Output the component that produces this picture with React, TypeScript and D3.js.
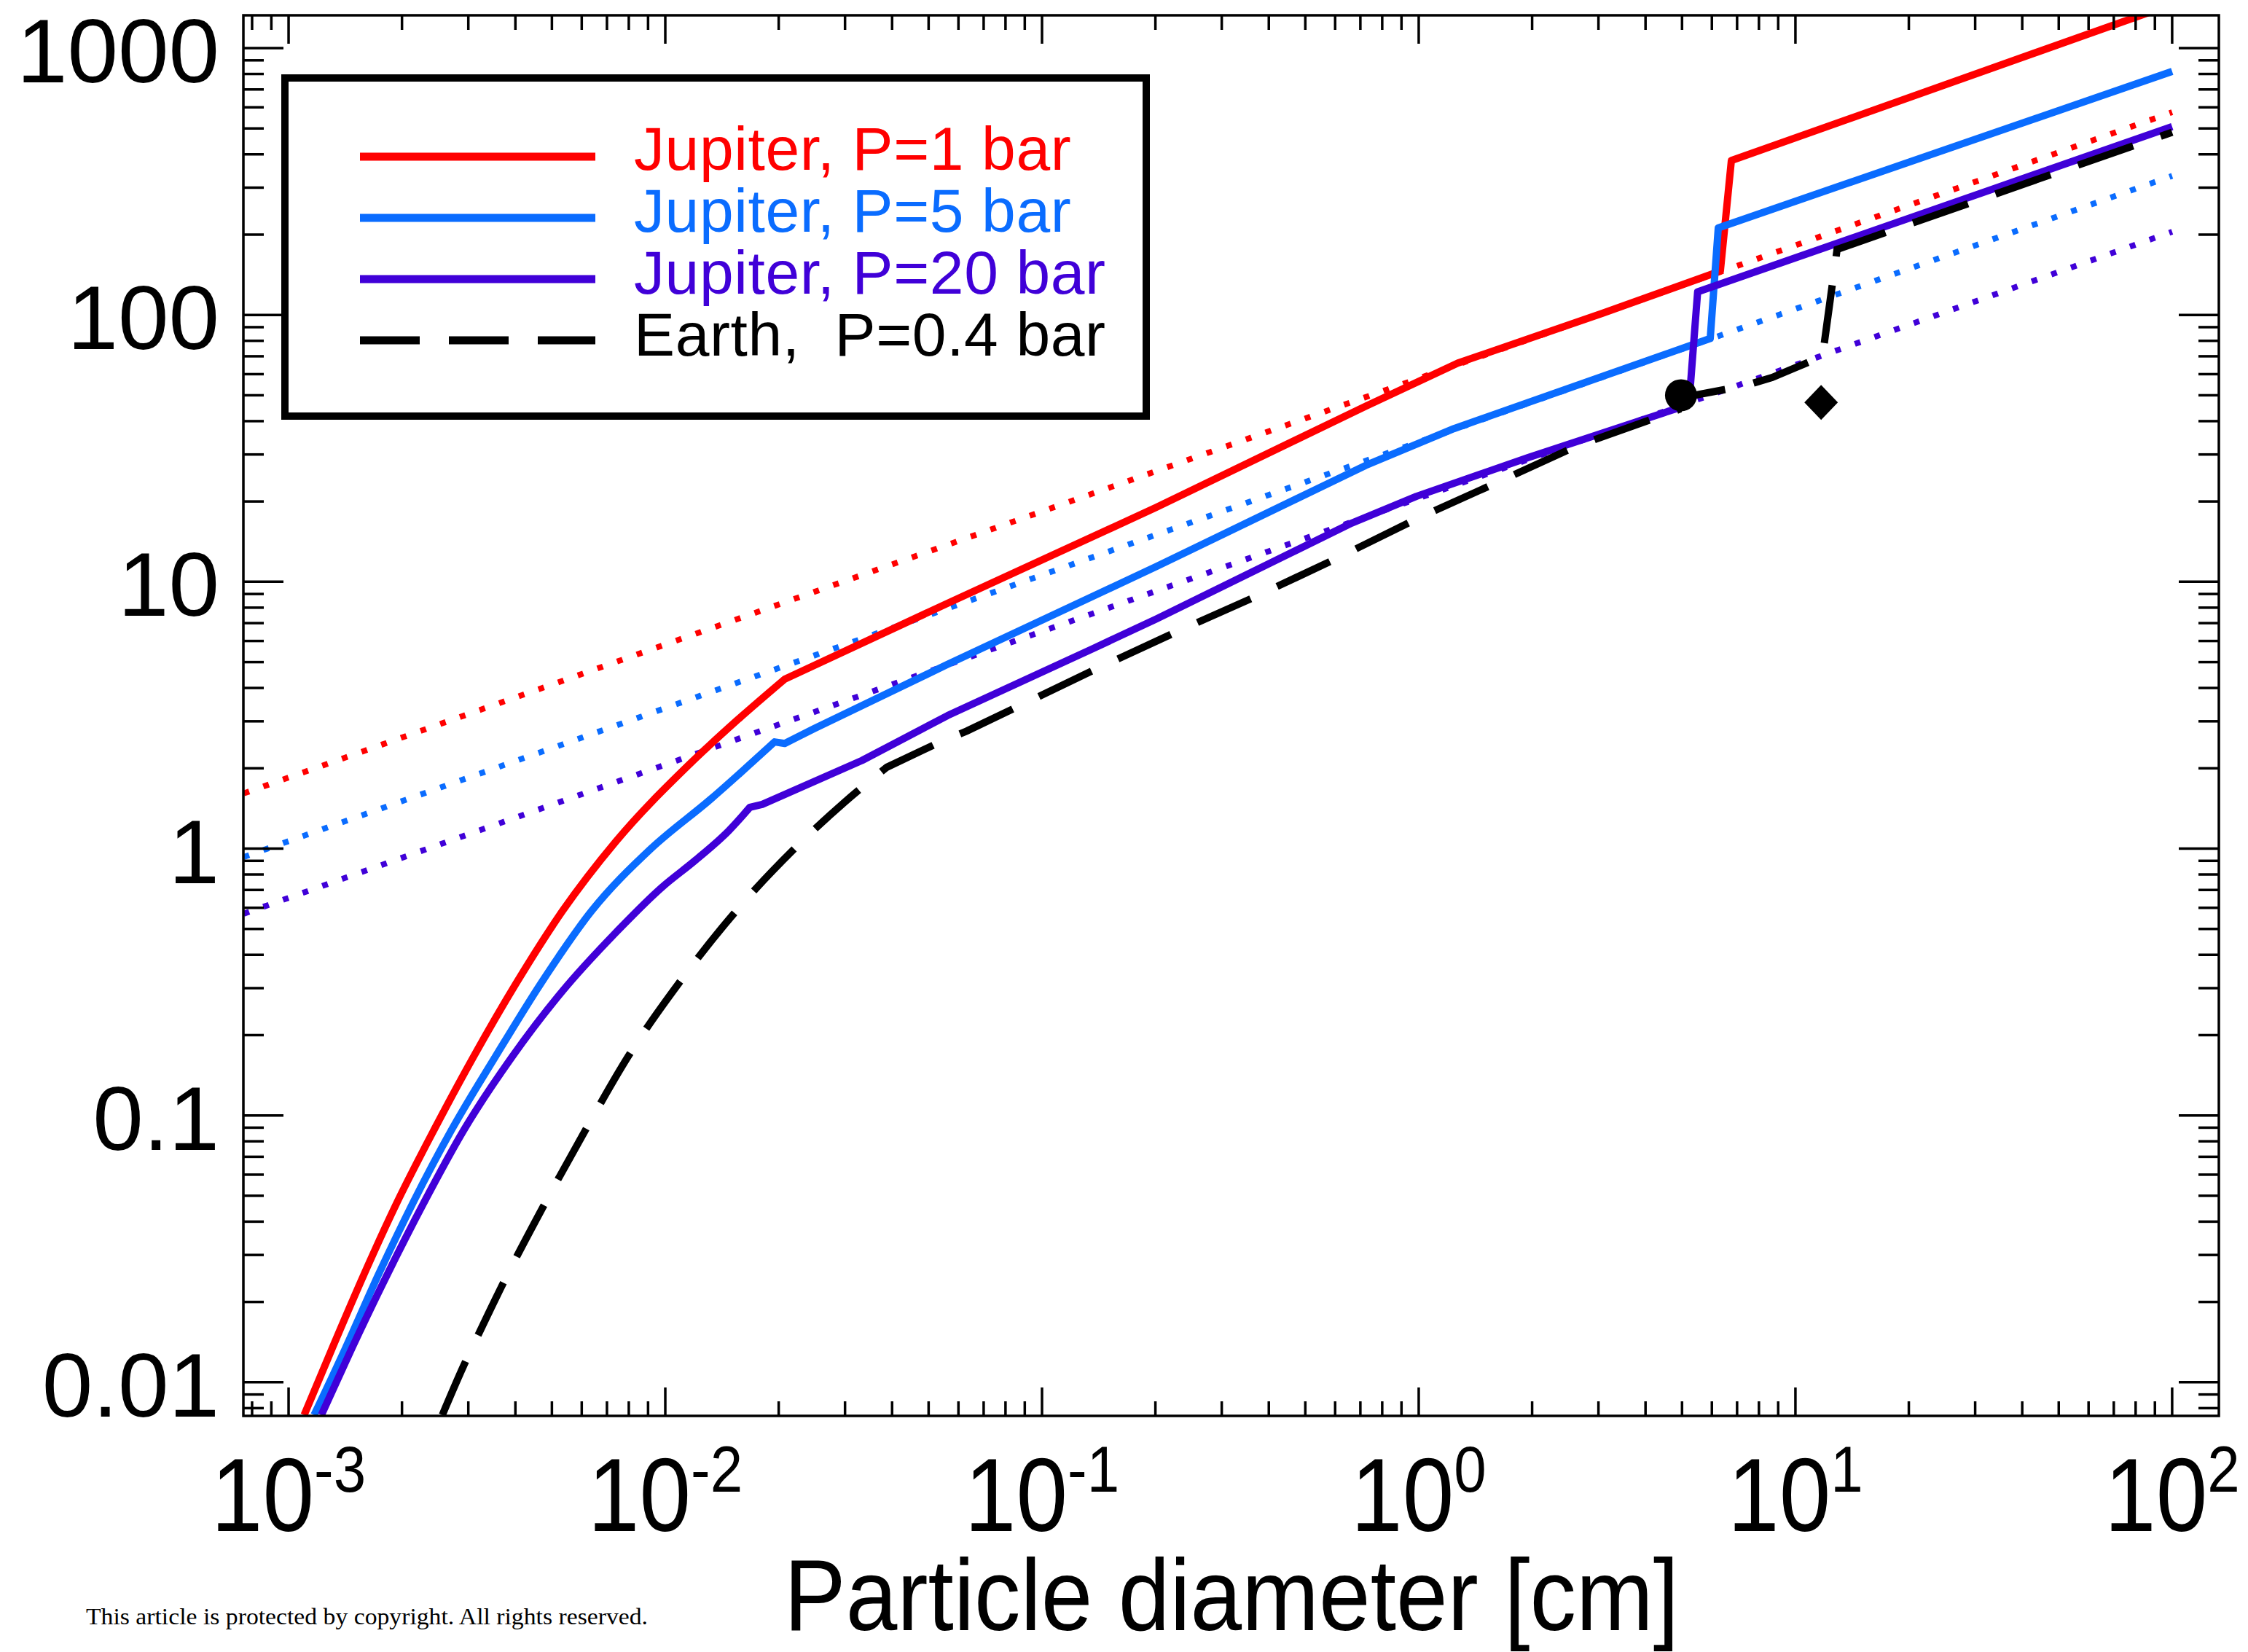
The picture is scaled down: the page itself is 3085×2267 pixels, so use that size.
import React from 'react';
import * as d3 from 'd3';

const W = 3085;
const H = 2267;

// Jupiter, P=1 bar (diameter cm, velocity)
const jup1D = [0.0011, 0.001306, 0.001582, 0.001941, 0.002436, 0.003099, 0.004013, 0.005337, 0.007386, 0.01153, 0.0154, 0.02075, 0.0561, 0.201, 0.723, 1.27, 3.08, 6.32, 6.76, 100];
const jup1V = [0.00754, 0.01343, 0.02519, 0.04725, 0.08861, 0.1662, 0.3117, 0.5844, 1.062, 2.056, 3.0, 4.317, 8.3, 19.0, 45.5, 66, 101.5, 146, 379, 1460];
const jup1SmoothN = 12;

// Jupiter, P=5 bar
const jup5D = [0.001169, 0.001416, 0.001729, 0.002142, 0.002712, 0.003541, 0.004669, 0.006377, 0.009148, 0.01318, 0.0195, 0.02075, 0.02481, 0.0561, 0.201, 0.723, 1.24, 5.94, 6.24, 100];
const jup5V = [0.00754, 0.01343, 0.02519, 0.04725, 0.08861, 0.1662, 0.3117, 0.5844, 0.9975, 1.53, 2.511, 2.478, 2.815, 4.9, 11.4, 27.3, 37.5, 81.6, 212, 818];
const jup5SmoothN = 11;

// Jupiter, P=20 bar
const jup20D = [0.001222, 0.001473, 0.001824, 0.002289, 0.002925, 0.003925, 0.005337, 0.007386, 0.009779, 0.01206, 0.01474, 0.01677, 0.01808, 0.0333, 0.0561, 0.137, 0.201, 0.664, 0.986, 1.95, 4.82, 5.25, 5.5, 100];
const jup20V = [0.00754, 0.01343, 0.02519, 0.04725, 0.08861, 0.1662, 0.2927, 0.4841, 0.7148, 0.9078, 1.167, 1.428, 1.464, 2.14, 3.15, 5.63, 7.25, 16.6, 20.9, 29.2, 44.5, 52, 122, 508];
const jup20SmoothN = 12;

// Earth, P=0.4 bar
const earthD = [0.002559, 0.002911, 0.003269, 0.003705, 0.004775, 0.006182, 0.007965, 0.01113, 0.01554, 0.02249, 0.03004, 0.03873, 0.0536, 0.0632, 0.0875, 0.137, 0.229, 0.375, 0.61, 0.986, 1.63, 2.63, 4.33, 4.9, 5.0, 7.26, 8.67, 11.8, 12.9, 100];
const earthV = [0.00754, 0.01148, 0.01623, 0.02337, 0.04637, 0.08974, 0.1662, 0.3278, 0.5918, 1.029, 1.501, 2.018, 2.51, 2.76, 3.44, 4.66, 6.52, 8.89, 12.3, 17.2, 23.7, 32.3, 41.5, 44.2, 49, 54.1, 58.3, 70, 176, 484];
const earthSmoothN = 12;

// Dotted reference lines
const dotD = [0.00076, 100];
const dot1V = [1.61, 575];
const dot5V = [0.93, 332];
const dot20V = [0.57, 205];

// Markers
const circleMarker = { d: 4.97, v: 50 };
const diamondMarker = { d: 11.7, v: 47 };

// Axis ticks
const xTickExps = [-3, -2, -1, 0, 1, 2];
const yTickVals = [0.01, 0.1, 1, 10, 100, 1000];
const yTickLabels = ['0.01', '0.1', '1', '10', '100', '1000'];

// Legend
const legendLabels = ['Jupiter, P=1 bar', 'Jupiter, P=5 bar', 'Jupiter, P=20 bar', 'Earth,  P=0.4 bar'];
const legendColors = ['#ff0000', '#0a6cff', '#4000d8', '#000000'];
const legendDashed = [false, false, false, true];

const RED = '#ff0000';
const BLUE = '#0a6cff';
const PURPLE = '#4000d8';
const FONT = '"Liberation Sans", Arial, Helvetica, sans-serif';

export default function App() {
  const left = 334, right = 3045, top = 21, bottom = 1943;
  const x = d3.scaleLog().domain([Math.pow(10, -3.12), Math.pow(10, 2.124)]).range([left, right]);
  const y = d3.scaleLog().domain([Math.pow(10, -2.126), Math.pow(10, 3.123)]).range([bottom, top]);
  const lineLin = d3.line<[number, number]>().x(d => x(d[0])).y(d => y(d[1]));
  const lineSmooth = d3.line<[number, number]>().x(d => x(d[0])).y(d => y(d[1])).curve(d3.curveMonotoneX);
  const zip = (a: number[], b: number[]) => a.map((v, i) => [v, b[i]] as [number, number]);
  const mixedPath = (d: number[], v: number[], n: number) => {
    const pts = zip(d, v);
    const a = lineSmooth(pts.slice(0, n)) || '';
    const b = (lineLin(pts.slice(n - 1)) || '').replace(/^M/, 'L');
    return a + b;
  };

  const [xd0, xd1] = x.domain();
  const [yd0, yd1] = y.domain();
  const xMinor: { v: number; major: boolean }[] = [];
  const yMinor: { v: number; major: boolean }[] = [];
  for (let e = -5; e <= 4; e++) {
    for (let m = 1; m <= 9; m++) {
      const v = m * Math.pow(10, e);
      if (v >= xd0 * 1.0001 && v <= xd1 * 0.9999) xMinor.push({ v, major: m === 1 });
      if (v >= yd0 * 1.0001 && v <= yd1 * 0.9999) yMinor.push({ v, major: m === 1 });
    }
  }

  const solid = (d: number[], v: number[], n: number, c: string) => (
    <path d={mixedPath(d, v, n)} fill="none" stroke={c} strokeWidth={10} strokeLinejoin="round" />
  );
  const dotted = (v: number[], c: string) => (
    <path d={lineLin(zip(dotD, v)) || ''} fill="none" stroke={c} strokeWidth={8} strokeDasharray="8 20.6" />
  );

  const cx = x(circleMarker.d), cy = y(circleMarker.v);
  const dx = x(diamondMarker.d), dy = y(diamondMarker.v);

  return (
    <svg width={W} height={H} style={{ position: 'absolute', left: 0, top: 0, background: '#fff' }}>
      <rect x={0} y={0} width={W} height={H} fill="#fff" />
      <defs>
        <clipPath id="plotclip">
          <rect x={left} y={top} width={right - left} height={bottom - top} />
        </clipPath>
      </defs>
      <g clipPath="url(#plotclip)">
        {dotted(dot1V, RED)}
        {dotted(dot5V, BLUE)}
        {dotted(dot20V, PURPLE)}
        {solid(jup1D, jup1V, jup1SmoothN, RED)}
        {solid(jup5D, jup5V, jup5SmoothN, BLUE)}
        {solid(jup20D, jup20V, jup20SmoothN, PURPLE)}
        <path d={mixedPath(earthD, earthV, earthSmoothN)} fill="none" stroke="#000" strokeWidth={10} strokeDasharray="80 40" />
        <circle cx={cx} cy={cy} r={22} fill="#000" />
        <path d={`M${dx},${dy - 24}L${dx + 23},${dy}L${dx},${dy + 24}L${dx - 23},${dy}Z`} fill="#000" />
      </g>
      {/* frame */}
      <rect x={left} y={top} width={right - left} height={bottom - top} fill="none" stroke="#000" strokeWidth={3.5} />
      {/* x ticks */}
      {xMinor.map((t, i) => {
        const px = x(t.v);
        const len = t.major ? 39 : 20;
        return (
          <g key={'xt' + i} stroke="#000" strokeWidth={3.5}>
            <line x1={px} x2={px} y1={bottom} y2={bottom - len} />
            <line x1={px} x2={px} y1={top} y2={top + len} />
          </g>
        );
      })}
      {yMinor.map((t, i) => {
        const py = y(t.v);
        const len = t.major ? 55 : 28;
        return (
          <g key={'yt' + i} stroke="#000" strokeWidth={3.5}>
            <line x1={left} x2={left + len} y1={py} y2={py} />
            <line x1={right} x2={right - len} y1={py} y2={py} />
          </g>
        );
      })}
      {/* y labels */}
      {yTickVals.map((v, i) => (
        <text key={'yl' + i} x={301} y={y(v) + 47} textAnchor="end" fontFamily={FONT} fontSize={125} fill="#000">
          {yTickLabels[i]}
        </text>
      ))}
      {/* x labels */}
      {xTickExps.map((e, i) => (
        <g key={'xl' + i} transform={`translate(${x(Math.pow(10, e))},2101) scale(1,1.12)`}>
          <text x={0} y={0} textAnchor="middle" fontFamily={FONT} fill="#000">
            <tspan fontSize={127}>10</tspan>
            <tspan fontSize={80} dy={-48}>{String(e)}</tspan>
          </text>
        </g>
      ))}
      {/* x title */}
      <g transform="translate(1690,2237) scale(1,1.1)">
        <text x={0} y={0} textAnchor="middle" fontFamily={FONT} fontSize={127} fill="#000">Particle diameter [cm]</text>
      </g>
      {/* legend */}
      <rect x={391} y={107} width={1182} height={464} fill="#fff" stroke="#000" strokeWidth={10} />
      {legendLabels.map((lab, i) => (
        <g key={'lg' + i}>
          <line x1={494} x2={817} y1={215 + i * 84} y2={215 + i * 84} stroke={legendColors[i]} strokeWidth={11}
            strokeDasharray={legendDashed[i] ? '82 40' : undefined} />
          <text x={870} y={233 + i * 85} fontFamily={FONT} fontSize={84} letterSpacing={0.6} fill={legendColors[i]} style={{ whiteSpace: 'pre' }}>
            {lab}
          </text>
        </g>
      ))}
      {/* watermark */}
      <text x={118} y={2229} fontFamily='"Liberation Serif", "DejaVu Serif", serif' fontSize={31} fill="#000" textLength={771} lengthAdjust="spacingAndGlyphs">
        This article is protected by copyright. All rights reserved.
      </text>
    </svg>
  );
}
